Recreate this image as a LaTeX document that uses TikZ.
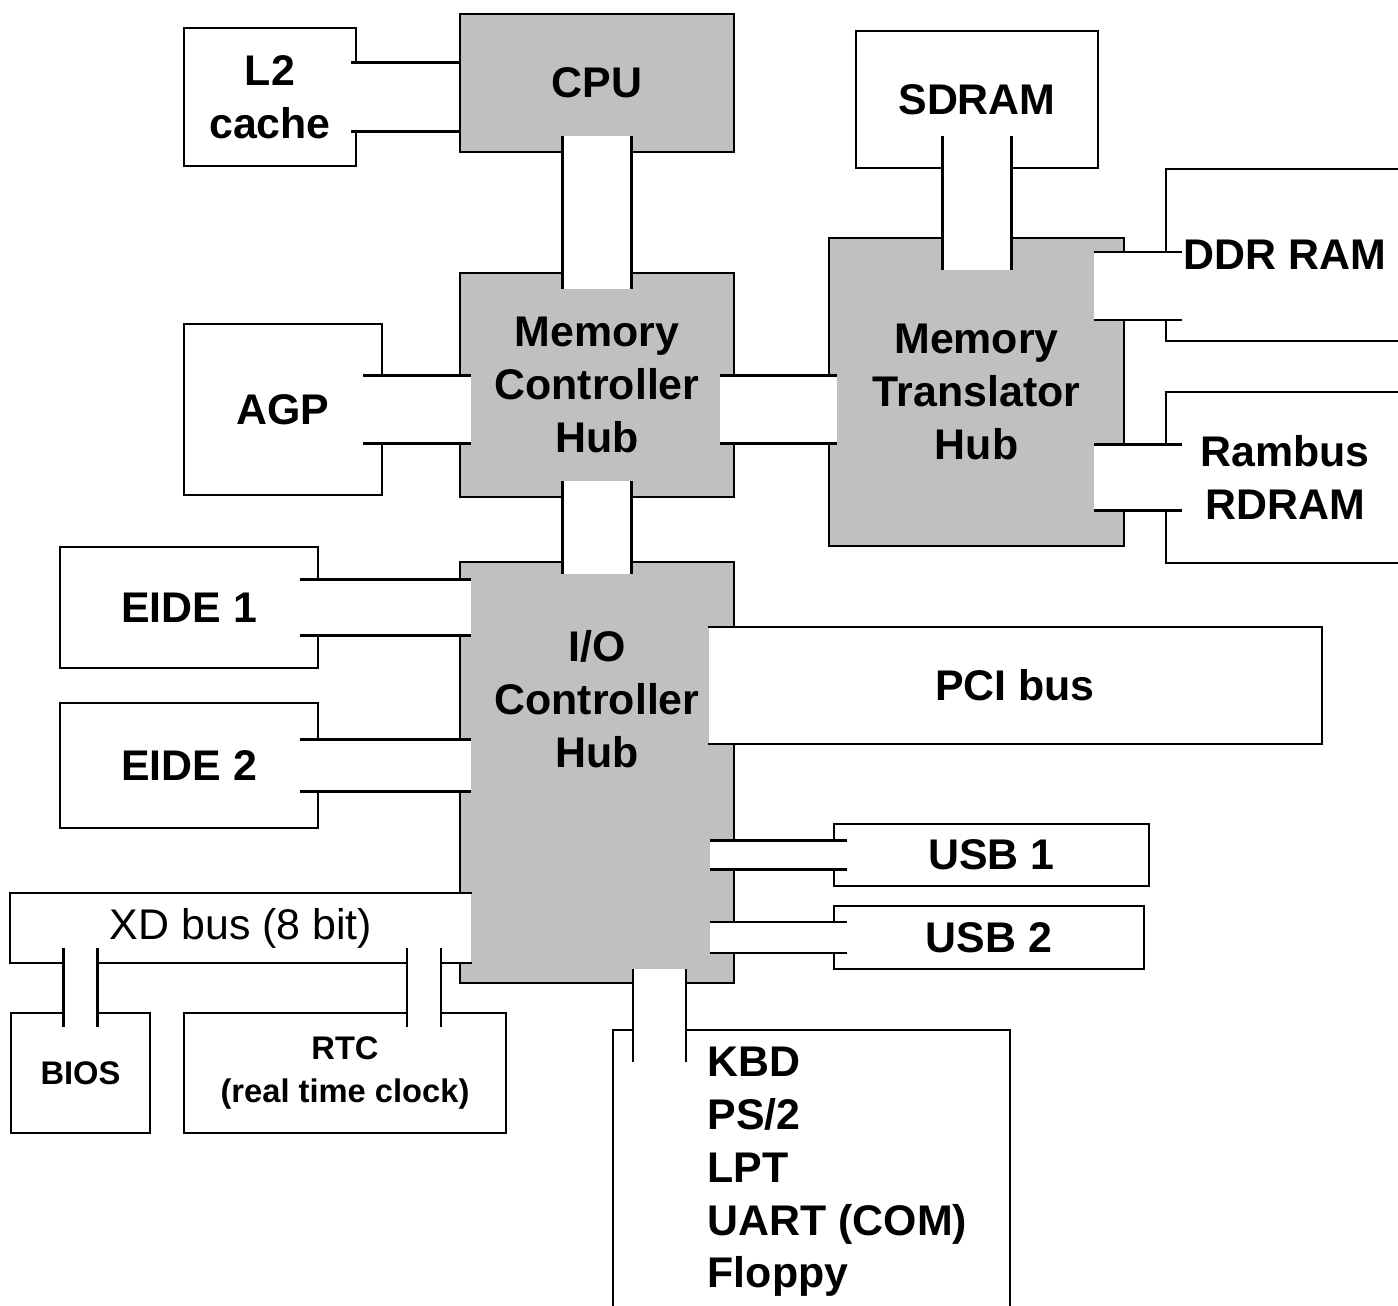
\documentclass[tikz,border=0pt]{standalone}
\usepackage{fontspec}
\setmainfont{Liberation Sans}
\usepackage{tikz}
\usetikzlibrary{calc}
\definecolor{hubgray}{HTML}{C0C0C0}
\newcommand{\boxfont}{\bfseries\fontsize{12.2}{15}\selectfont}
\newcommand{\chipfont}{\bfseries\fontsize{9.3}{12}\selectfont}
\tikzset{
  box/.style={draw, fill=white, line width=0.6pt, inner sep=0pt, align=center, font=\boxfont},
  hub/.style={box, fill=hubgray},
  chip/.style={box, font=\chipfont},
  busbox/.style={fill=white, inner sep=0pt, align=center},
  busline/.style={line width=0.6pt},
}
% horizontal bus: left node, right node, centre, half width, overlap left, overlap right
\newcommand{\hbus}[6]{%
  \fill[white] ($(#1.east |- #3)+(-#5,#4)$) rectangle ($(#2.west |- #3)+(#6,-#4)$);
  \draw[busline] ($(#1.east |- #3)+(-#5,#4)$) -- ($(#2.west |- #3)+(#6,#4)$)
                 ($(#1.east |- #3)+(-#5,-#4)$) -- ($(#2.west |- #3)+(#6,-#4)$);%
}
% vertical bus: upper node, lower node, centre, half width, overlap up, overlap down
\newcommand{\vbus}[6]{%
  \fill[white] ($(#3 |- #1.south)+(-#4,#5)$) rectangle ($(#3 |- #2.north)+(#4,-#6)$);
  \draw[busline] ($(#3 |- #1.south)+(-#4,#5)$) -- ($(#3 |- #2.north)+(-#4,-#6)$)
                 ($(#3 |- #1.south)+(#4,#5)$) -- ($(#3 |- #2.north)+(#4,-#6)$);%
}
\begin{document}
\begin{tikzpicture}
  \path[use as bounding box, clip] (0,0) rectangle (13.98,-13.06);

  % top row
  \node[box, minimum width=1.72cm, minimum height=1.38cm] (l2) at (2.70,-0.97) {L2\\cache};
  \node[hub, minimum width=2.74cm, minimum height=1.38cm] (cpu) at (5.97,-0.83) {CPU};
  \node[box, minimum width=2.42cm, minimum height=1.37cm] (sdram) at (9.77,-0.995) {SDRAM};

  % hubs and memory
  \node[hub, minimum width=2.74cm, minimum height=2.24cm] (mch) at (5.97,-3.85) {Memory\\Controller\\Hub};
  \node[box, minimum width=1.98cm, minimum height=1.71cm] (agp) at (2.83,-4.095) {AGP};
  \node[hub, minimum width=2.95cm, minimum height=3.08cm] (mth) at (9.765,-3.92) {Memory\\Translator\\Hub};
  \node[box, minimum width=2.38cm, minimum height=1.72cm] (ddr) at (12.85,-2.55) {DDR RAM};
  \node[box, minimum width=2.38cm, minimum height=1.71cm] (rdram) at (12.85,-4.775) {Rambus\\RDRAM};

  % I/O side
  \node[box, minimum width=2.58cm, minimum height=1.21cm] (eide1) at (1.89,-6.075) {EIDE 1};
  \node[box, minimum width=2.58cm, minimum height=1.25cm] (eide2) at (1.89,-7.655) {EIDE 2};
  \node[hub, minimum width=2.74cm, minimum height=4.21cm] (ich) at (5.97,-7.725) {};
  \node[font=\boxfont, align=center] (ichtext) at (5.97,-6.99) {I/O\\Controller\\Hub};
  \node[busbox, font=\boxfont, minimum width=6.12cm, minimum height=1.15cm] (pci) at (10.15,-6.855) {PCI bus};
  \draw[busline] (pci.north west) -- (pci.north east) -- (pci.south east) -- (pci.south west);
  \node[box, minimum width=3.15cm, minimum height=0.62cm] (usb1) at (9.915,-8.55) {USB 1};
  \node[box, minimum width=3.10cm, minimum height=0.63cm] (usb2) at (9.89,-9.375) {USB 2};
  \node[box, minimum width=3.97cm, minimum height=2.80cm] (kbd) at (8.115,-11.70) {};
  \node[font=\boxfont, align=left, anchor=west, inner sep=0pt] (kbdlist) at (7.07,-11.72) {KBD\\PS/2\\LPT\\UART (COM)\\Floppy};

  % XD bus and its chips
  \node[busbox, font=\fontsize{12.2}{15}\selectfont, minimum width=4.60cm, minimum height=0.68cm] (xd) at (2.41,-9.28) {XD bus (8 bit)};
  \draw[busline] (xd.north east) -- (xd.north west) -- (xd.south west) -- (xd.south east);
  \node[chip, minimum width=1.39cm, minimum height=1.20cm] (bios) at (0.805,-10.73) {BIOS};
  \node[chip, minimum width=3.22cm, minimum height=1.20cm] (rtc) at (3.45,-10.73) {RTC\\(real time clock)};

  % buses
  \coordinate (ddrbus) at (12.85,-2.86);
  \coordinate (kbdbus) at (6.595,-10);
  \coordinate (rtcbus) at (4.24,-10);
  \hbus{l2}{cpu}{l2}{0.345}{0.06}{0}
  \hbus{agp}{mch}{agp}{0.34}{0.20}{0.12}
  \hbus{mch}{mth}{agp}{0.34}{0.15}{0.09}
  \hbus{mth}{ddr}{ddrbus}{0.34}{0.31}{0.17}
  \hbus{mth}{rdram}{rdram}{0.33}{0.31}{0.17}
  \hbus{eide1}{ich}{eide1}{0.28}{0.19}{0.12}
  \hbus{eide2}{ich}{eide2}{0.26}{0.19}{0.12}
  \hbus{ich}{usb1}{usb1}{0.145}{0.25}{0.14}
  \hbus{ich}{usb2}{usb2}{0.155}{0.25}{0.14}
  \vbus{cpu}{mch}{cpu}{0.345}{0.17}{0.17}
  \vbus{mch}{ich}{mch}{0.345}{0.17}{0.13}
  \vbus{sdram}{mth}{sdram}{0.345}{0.33}{0.33}
  \vbus{ich}{kbd}{kbdbus}{0.265}{0.15}{0.33}
  \vbus{xd}{bios}{bios}{0.17}{0.15}{0.15}
  \vbus{xd}{rtc}{rtcbus}{0.17}{0.15}{0.15}
\end{tikzpicture}
\end{document}
